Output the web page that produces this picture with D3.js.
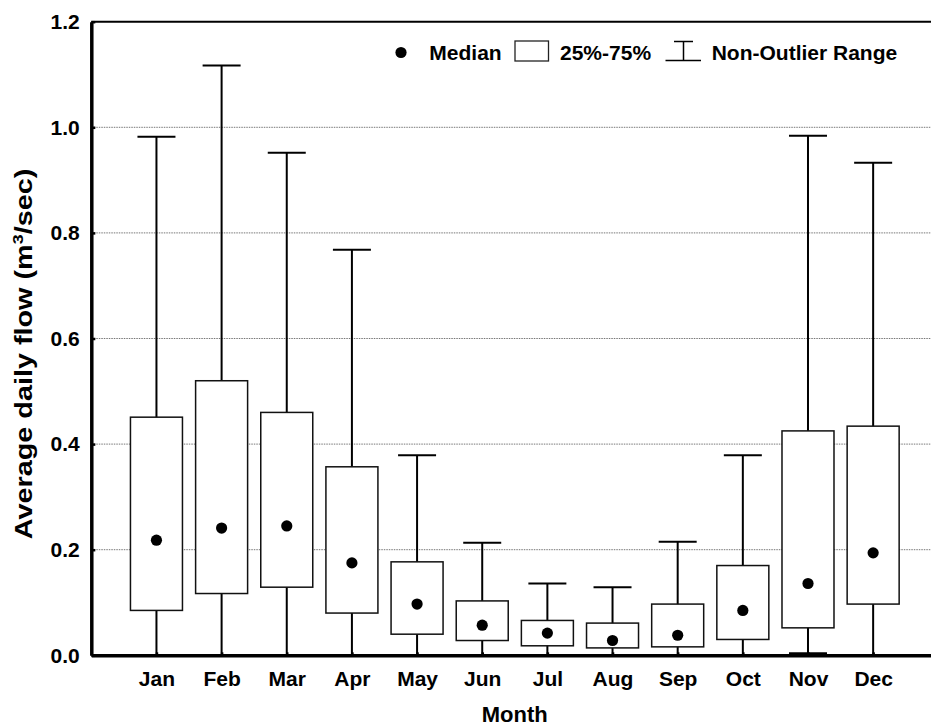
<!DOCTYPE html>
<html>
<head>
<meta charset="utf-8">
<script src="https://cdn.jsdelivr.net/npm/d3@7"></script>
<style>
  html, body { margin: 0; padding: 0; background: #fff; }
  svg { display: block; }
  text { font-family: "Liberation Sans", Arial, Helvetica, sans-serif; font-weight: bold; fill: #000; }
</style>
</head>
<body>
<svg id="chart" width="931" height="728"></svg>
<script>
const months = ["Jan","Feb","Mar","Apr","May","Jun","Jul","Aug","Sep","Oct","Nov","Dec"];
const medians = [0.218, 0.241, 0.245, 0.175, 0.097, 0.057, 0.042, 0.028, 0.038, 0.085, 0.136, 0.194];
const q25 = [0.085, 0.117, 0.129, 0.080, 0.040, 0.028, 0.018, 0.014, 0.016, 0.030, 0.052, 0.097];
const q75 = [0.451, 0.520, 0.460, 0.357, 0.177, 0.103, 0.066, 0.061, 0.097, 0.170, 0.425, 0.434];
const whiskerMin = [0, 0, 0, 0, 0, 0, 0, 0, 0, 0, 0.004, 0];
const whiskerMax = [0.982, 1.117, 0.952, 0.768, 0.379, 0.213, 0.136, 0.129, 0.215, 0.379, 0.984, 0.933];
const yTicks = [0, 0.2, 0.4, 0.6, 0.8, 1.0, 1.2];
const gridTicks = [0.2, 0.4, 0.6, 0.8, 1.0];

(function () {
const svg = d3.select("#chart");
const pLeft = 91.3, pRight = 938.3, pTop = 21.7, pBottom = 655.3;

const x = d3.scalePoint().domain(months).range([pLeft, pRight]).padding(1);
const y = d3.scaleLinear().domain([0, 1.2]).range([pBottom, pTop]);

const boxW = 52, capW = 38;

const data = months.map((m, i) => ({
  m, med: medians[i], lo: q25[i], hi: q75[i], wmin: whiskerMin[i], wmax: whiskerMax[i]
}));

// gridlines
svg.append("g").selectAll("line").data(gridTicks).join("line")
  .attr("x1", pLeft).attr("x2", pRight)
  .attr("y1", d => y(d)).attr("y2", d => y(d))
  .attr("stroke", "#777").attr("stroke-width", 1).attr("stroke-dasharray", "1.5,1");

// top border
svg.append("line").attr("x1", pLeft).attr("x2", pRight)
  .attr("y1", y(1.2)).attr("y2", y(1.2))
  .attr("stroke", "#000").attr("stroke-width", 2);

const g = svg.append("g");
g.selectAll(".wh").data(data).join("line").attr("class", "wh")
  .attr("x1", d => x(d.m)).attr("x2", d => x(d.m))
  .attr("y1", d => y(d.wmax)).attr("y2", d => y(d.wmin))
  .attr("stroke", "#000").attr("stroke-width", 2);
g.selectAll(".capT").data(data).join("line").attr("class", "capT")
  .attr("x1", d => x(d.m) - capW / 2).attr("x2", d => x(d.m) + capW / 2)
  .attr("y1", d => y(d.wmax)).attr("y2", d => y(d.wmax))
  .attr("stroke", "#000").attr("stroke-width", 2);
g.selectAll(".capB").data(data).join("line").attr("class", "capB")
  .attr("x1", d => x(d.m) - capW / 2).attr("x2", d => x(d.m) + capW / 2)
  .attr("y1", d => y(d.wmin)).attr("y2", d => y(d.wmin))
  .attr("stroke", "#000").attr("stroke-width", 2);
g.selectAll("rect").data(data).join("rect")
  .attr("x", d => x(d.m) - boxW / 2).attr("width", boxW)
  .attr("y", d => y(d.hi)).attr("height", d => y(d.lo) - y(d.hi))
  .attr("fill", "#fff").attr("stroke", "#111").attr("stroke-width", 1.5);
g.selectAll("circle").data(data).join("circle")
  .attr("cx", d => x(d.m)).attr("cy", d => y(d.med)).attr("r", 5.6)
  .attr("fill", "#000");

// y axis
const yAxis = d3.axisLeft(y).tickValues(yTicks).tickFormat(d3.format(".1f"))
  .tickSizeInner(-4).tickSizeOuter(0).tickPadding(11.5);
const ya = svg.append("g").attr("transform", `translate(${pLeft},0)`).call(yAxis);
ya.select(".domain").attr("stroke", "#000").attr("stroke-width", 3.5);
ya.selectAll(".tick line").attr("stroke", "#000").attr("stroke-width", 2.5);
ya.selectAll(".tick text").attr("font-size", 21).attr("font-family", "Liberation Sans, Arial, sans-serif")
  .attr("font-weight", "bold").attr("fill", "#000");

// x axis
const xAxis = d3.axisBottom(x).tickSizeInner(-3).tickSizeOuter(0).tickPadding(16);
const xa = svg.append("g").attr("transform", `translate(0,${pBottom})`).call(xAxis);
xa.select(".domain").attr("stroke", "#000").attr("stroke-width", 3.5);
xa.selectAll(".tick line").attr("stroke", "#000").attr("stroke-width", 2.5);
xa.selectAll(".tick text").attr("font-size", 21).attr("font-family", "Liberation Sans, Arial, sans-serif")
  .attr("font-weight", "bold").attr("fill", "#000");

// axis titles
svg.append("text").attr("x", 514.7).attr("y", 722).attr("text-anchor", "middle")
  .attr("font-size", 22).text("Month");

const yt = svg.append("text")
  .attr("transform", "translate(32,354) rotate(-90) scale(1.2,1)")
  .attr("text-anchor", "middle").attr("font-size", 24);
yt.append("tspan").text("Average daily flow (m");
yt.append("tspan").attr("font-size", 15).attr("dy", -9).text("3");
yt.append("tspan").attr("dy", 9).text("/sec)");

// legend
const lg = svg.append("g");
lg.append("circle").attr("cx", 401).attr("cy", 52.5).attr("r", 5.6).attr("fill", "#000");
lg.append("text").attr("x", 429.3).attr("y", 59.5).attr("font-size", 21).text("Median");
lg.append("rect").attr("x", 515).attr("y", 41).attr("width", 33.5).attr("height", 20)
  .attr("fill", "#fff").attr("stroke", "#222").attr("stroke-width", 1.3);
lg.append("text").attr("x", 560).attr("y", 59.5).attr("font-size", 21).text("25%-75%");
lg.append("line").attr("x1", 674).attr("x2", 693).attr("y1", 41.5).attr("y2", 41.5)
  .attr("stroke", "#000").attr("stroke-width", 1.5);
lg.append("line").attr("x1", 683.5).attr("x2", 683.5).attr("y1", 41.5).attr("y2", 60.5)
  .attr("stroke", "#000").attr("stroke-width", 1.5);
lg.append("line").attr("x1", 665.5).attr("x2", 701).attr("y1", 60.5).attr("y2", 60.5)
  .attr("stroke", "#000").attr("stroke-width", 1.5);
lg.append("text").attr("x", 711.7).attr("y", 59.5).attr("font-size", 21).text("Non-Outlier Range");
})();
</script>
</body>
</html>
